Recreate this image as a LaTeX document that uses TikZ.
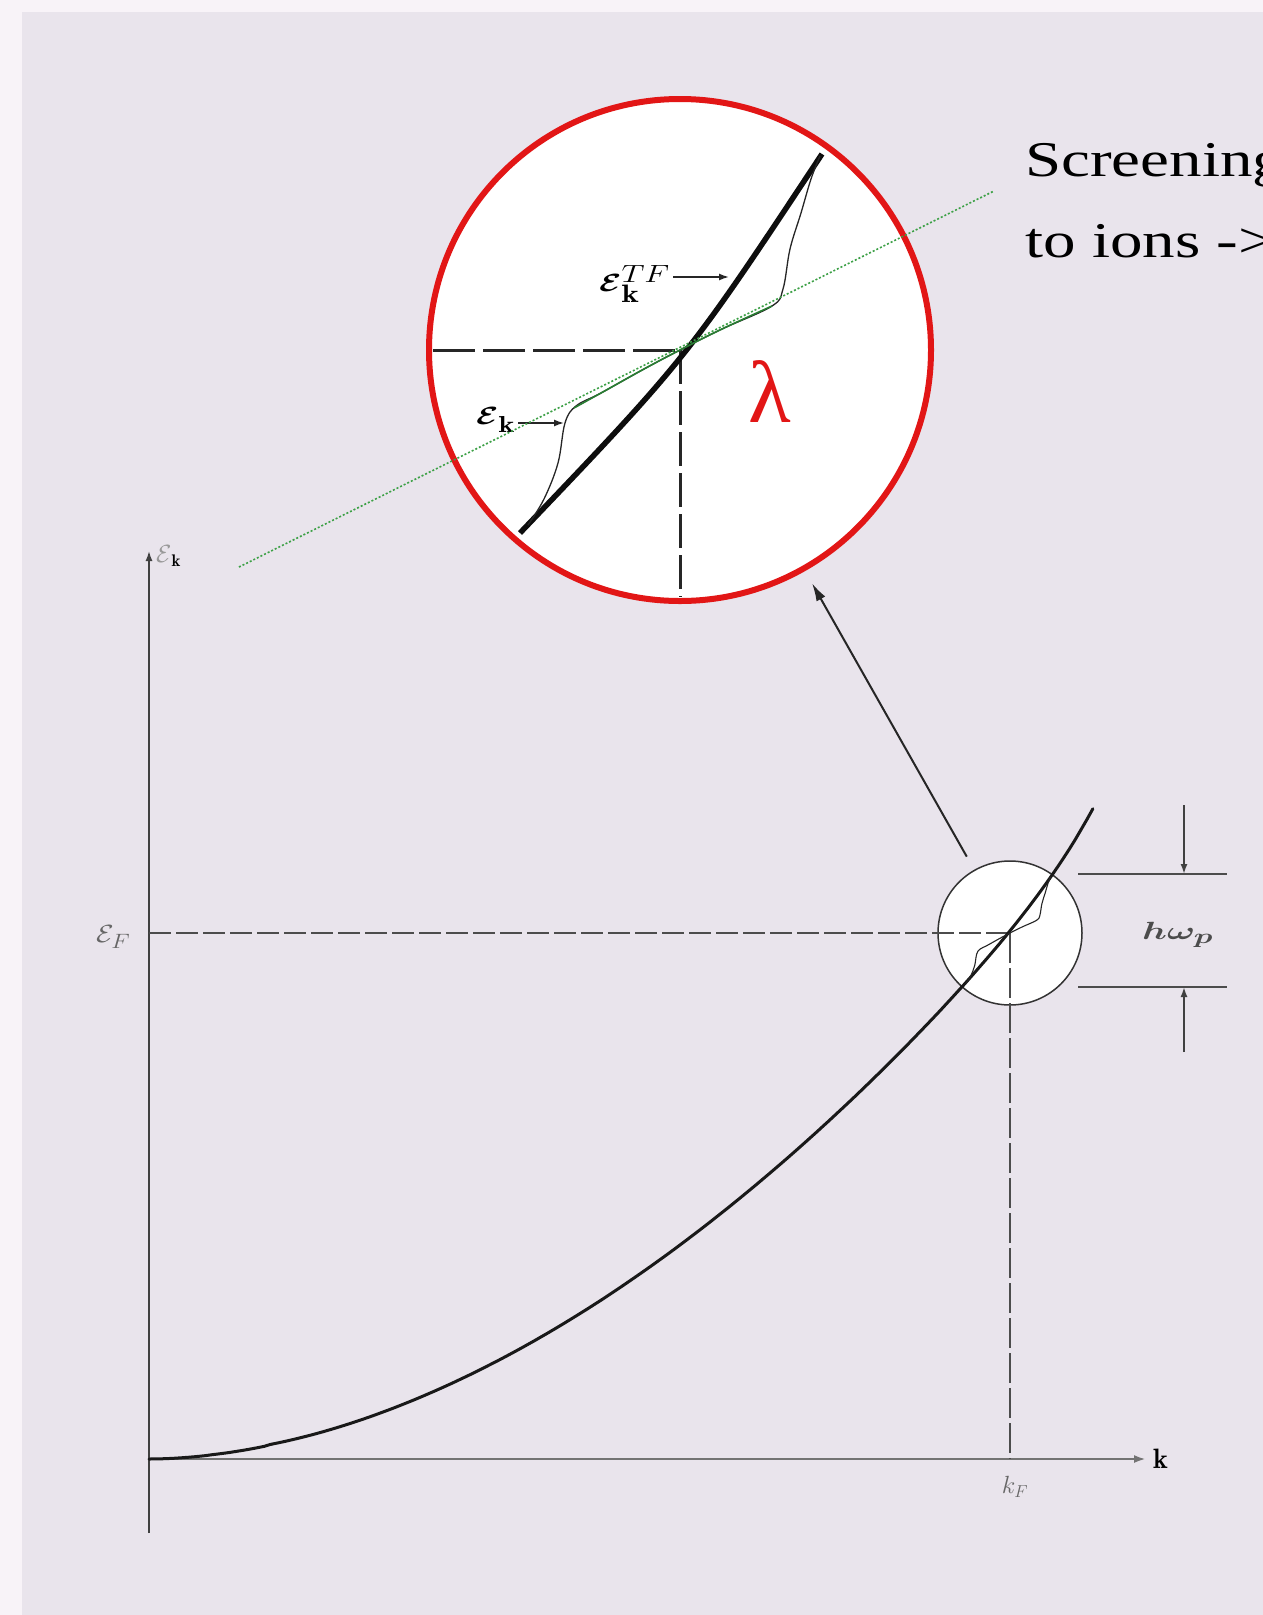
\documentclass[tikz,border=0pt]{standalone}
\usepackage{fontspec}
\usepackage{bm}
\newfontfamily\timesf{Liberation Serif}
\usetikzlibrary{arrows.meta}
\definecolor{bg}{RGB}{233,228,236}
\definecolor{bgl}{RGB}{248,243,248}
\definecolor{gline}{RGB}{60,160,70}
\definecolor{gcurve}{RGB}{40,125,50}
\definecolor{redc}{RGB}{226,22,22}
\tikzset{
  axisline/.style={draw=black!75, line width=1.5pt},
  fdash/.style={draw=black!70, line width=1.6pt, dash pattern=on 22pt off 5pt},
  zdash/.style={draw=black!85, line width=3pt, dash pattern=on 42pt off 8pt},
  curveline/.style={draw=black!90, line width=3pt, line cap=round},
  thinc/.style={draw=black!85, line width=1.3pt},
  gdot/.style={draw=gline, line width=1.6pt, dash pattern=on 2pt off 2pt},
  lbl/.style={inner sep=0pt},
  tip/.style={-{Latex[length=10pt,width=7pt]}},
}
\begin{document}
\begin{tikzpicture}[x=1pt,y=-1pt]
\useasboundingbox (0,0) rectangle (1263,1615);
\fill[bgl] (0,0) rectangle (1263,1615);
\fill[bg] (22,12) rectangle (1263,1615);

% ---------- lower graph ----------
\coordinate (O) at (149,1459);
\coordinate (ytop) at (149,551);
\coordinate (ybot) at (149,1533);
\coordinate (xend) at (1146,1459);
\coordinate (yF) at (149,933);
\coordinate (kF0) at (1010,1459);

\node[circle, draw=black!80, line width=1.5pt, fill=white, minimum size=144pt, inner sep=0pt] (small) at (1010,933) {};

\draw[axisline, -{Latex[length=10pt,width=7pt]}] (ybot) -- (ytop);
\draw[axisline, draw=black!55, line width=2.5pt, -{Latex[length=12pt,width=8pt]}] (O) -- (xend);
\draw[fdash] (yF) -- (small.center);
\draw[fdash, dash pattern=on 30pt off 5pt] (small.center) -- (kF0);

\draw[curveline] (O) -- plot[domain=0.01:1, samples=160] ({149+944*\x}, {1459 - 620.5*exp(1.85*ln(\x)) - 30*pow(max(\x,0.5),20)});

\begin{scope}[shift={(1010,933)}, scale=0.29]
\draw[thinc, line width=1.1pt] plot[smooth, tension=0.6] coordinates {(-152,175) (-136,149) (-122,113) (-115,73) (-104,56) (-79,43) (-36,19) (0,0) (42,-21) (92,-44) (103,-61) (110,-101) (121,-137) (131,-171) (140,-194)};
\end{scope}

% h omega_p dimension
\coordinate (h1a) at (1078,874);
\coordinate (h1b) at (1227,874);
\coordinate (h2a) at (1078,987);
\coordinate (h2b) at (1227,987);
\coordinate (ha1) at (1184,805);
\coordinate (ha2) at (1184,874);
\coordinate (hb1) at (1184,1052);
\coordinate (hb2) at (1184,987);
\draw[draw=black!70, line width=1.5pt] (h1a) -- (h1b);
\draw[draw=black!70, line width=1.5pt] (h2a) -- (h2b);
\draw[draw=black!75, line width=1.8pt, tip] (ha1) -- (ha2);
\draw[draw=black!75, line width=1.8pt, tip] (hb1) -- (hb2);

% labels lower graph
\node[lbl, anchor=west] (ylab) at (156,556) {\fontsize{24}{26}\selectfont $\textcolor{black!40}{\mathcal{E}}_{\mathbf{k}}$};
\node[lbl, anchor=west, text=black!60] (eF) at (96,937) {\scalebox{1.15}[1]{\fontsize{30}{32}\selectfont $\mathcal{E}_F$}};
\node[lbl, anchor=west, text=black!70] (hw) at (1142,935) {\scalebox{1.5}[1]{\fontsize{31}{33}\selectfont $\bm{h\omega_p}$}};
\node[lbl, text=black!60] (kF) at (1015,1487) {\fontsize{25}{27}\selectfont $k_F$};
\node[lbl, anchor=west] (klab) at (1153,1459) {\fontsize{28}{30}\selectfont $\mathbf{k}$};

% ---------- magnified circle ----------
\node[circle, draw=redc, line width=6pt, fill=white, minimum size=502pt, inner sep=0pt] (big) at (680,350) {};
\begin{scope}[shift={(680,350)}]
\coordinate (hl) at (-247,0);
\coordinate (vb) at (0,247);
\coordinate (cc) at (0,0);
\draw[zdash] (hl) -- (cc);
\draw[zdash, dash pattern=on 34pt off 7pt] (cc) -- (vb);
\coordinate (tb) at (-160,183);
\coordinate (tq) at (7,8);
\coordinate (tt) at (142,-196);
\draw[draw=black!95, line width=5.5pt] (tb) .. controls (tq) .. (tt);
\draw[thinc] plot[smooth, tension=0.6] coordinates {(-152,175) (-136,149) (-122,113) (-115,73) (-104,56) (-79,43) (-36,19) (0,0) (42,-21) (92,-44) (103,-61) (110,-101) (121,-137) (131,-171) (140,-194)};
\draw[draw=gcurve, line width=1.6pt] plot[smooth, tension=0.6] coordinates {(-106,58) (-79,43) (-36,19) (0,0) (42,-21) (92,-44)};
\end{scope}

% labels inside the circle
\coordinate (tfp) at (729,277);
\coordinate (ekp) at (564,423);
\node[lbl, anchor=west] (tf) at (599,284) {\scalebox{1.3}[1]{\fontsize{36}{40}\selectfont $\bm{\mathcal{E}}_{\mathbf{k}}^{TF}$}};
\node[lbl, anchor=west] (ek) at (476,420) {\scalebox{1.3}[1]{\fontsize{33}{36}\selectfont $\bm{\mathcal{E}}_{\mathbf{k}}$}};
\draw[draw=black!85, line width=1.5pt, tip] (tf.east |- tfp) ++(3,0) -- (tfp);
\draw[draw=black!85, line width=1.5pt, tip] (ek.east |- ekp) ++(3,0) -- (ekp);
\node[lbl, text=redc] (lam) at (770,392) {\fontsize{88}{90}\timesf\selectfont λ};

% green dotted line
\coordinate (g1) at (239,567);
\coordinate (g2) at (994,191);
\draw[gdot] (g1) -- (g2);

% leader arrow
\draw[draw=black!85, line width=2pt, -{Latex[length=18pt,width=10pt]}, shorten <=15pt, shorten >=14pt] (small) -- (big);

% screening text
\node[lbl, anchor=base west] (scr1) at (1025,176) {\scalebox{1.3}[1]{\fontsize{50}{55}\timesf\selectfont Screening}};
\node[lbl, anchor=base west] (scr2) at (1025,257) {\scalebox{1.3}[1]{\fontsize{50}{55}\timesf\selectfont to ions ->}};
\end{tikzpicture}
\end{document}
